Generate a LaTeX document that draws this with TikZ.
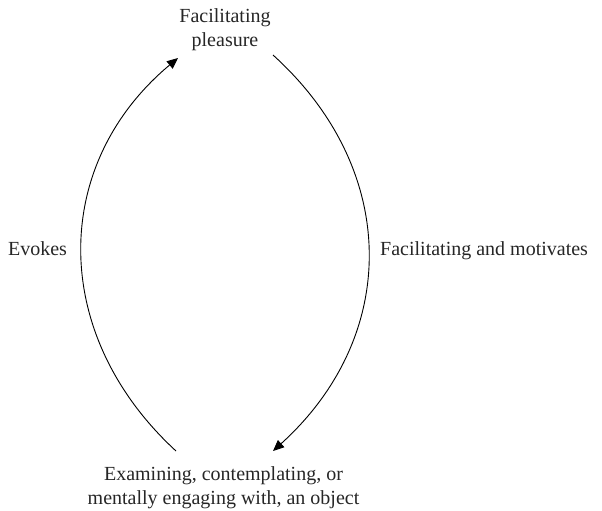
\documentclass[tikz,border=0pt]{standalone}
\usepackage{fontspec}
\setmainfont{Liberation Serif}
\usetikzlibrary{arrows.meta}
\begin{document}
\begin{tikzpicture}[x=1pt,y=-1pt,
  lbl/.style={font=\fontsize{20}{24}\selectfont, align=center, inner sep=0pt, text=black!85},
  arc/.style={line width=0.9pt, -{Triangle[length=11pt,width=9.5pt]}}]
\useasboundingbox (0,0) rectangle (602,511);
\node[lbl] (top) at (225,29.3) {Facilitating\\pleasure};
\node[lbl] (bot) at (223.5,487.3) {Examining, contemplating, or\\mentally engaging with, an object};
\node[lbl, anchor=base] (evo) at (37.5,255) {Evokes};
\node[lbl, anchor=base west] (fac) at (380,255) {Facilitating and motivates};
\coordinate (ls) at (176,451);
\coordinate (le) at (178,58);
\coordinate (rs) at (273,55);
\coordinate (re) at (273,451);
\draw[arc] (ls) .. controls (50,335) and (50,165) .. (le);
\draw[arc] (rs) .. controls (400,170) and (400,336) .. (re);
\end{tikzpicture}
\end{document}
